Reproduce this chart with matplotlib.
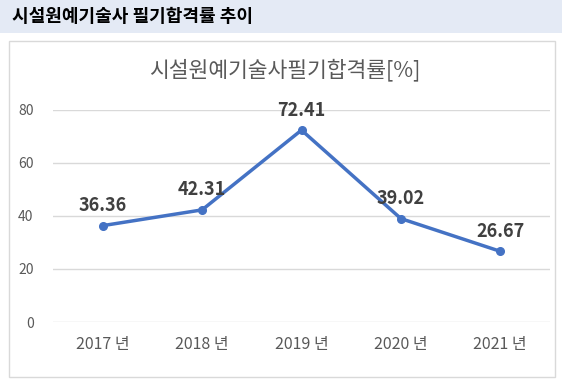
import matplotlib
matplotlib.use('Agg')
import matplotlib.pyplot as plt
from matplotlib.patches import Rectangle

plt.rcParams['font.family'] = ['Noto Sans CJK KR', 'DejaVu Sans']

# 데이터
years = ['2017 년', '2018 년', '2019 년', '2020 년', '2021 년']
pass_rate = [36.36, 42.31, 72.41, 39.02, 26.67]
yticks = [0, 20, 40, 60, 80]

header_text = '시설원예기술사 필기합격률 추이'
chart_title = '시설원예기술사필기합격률[%]'

W, H = 562, 384
fig = plt.figure(figsize=(W / 100, H / 100), dpi=100)

# 상단 헤더 띠
fig.patches.append(Rectangle((0, 1 - 33 / H), 1, 33 / H, transform=fig.transFigure,
                             facecolor='#E4EAF5', edgecolor='none', zorder=0))
fig.text(12 / W, 1 - 16 / H, header_text, fontsize=13, fontweight='bold',
         color='#000000', ha='left', va='center')

# 차트 테두리
fig.patches.append(Rectangle((9 / W, 1 - 377 / H), 546 / W, 336 / H, transform=fig.transFigure,
                             facecolor='white', edgecolor='#D9D9D9', linewidth=1, zorder=0))

ax = fig.add_axes([53 / W, 1 - 322 / H, 497 / W, 212 / H])
ax.set_zorder(2)
x = range(len(years))
ax.plot(x, pass_rate, color='#4472C4', linewidth=2.5, marker='o', markersize=5.5, zorder=3)

for i, v in enumerate(pass_rate):
    ax.text(i, v + 4, f'{v:.2f}', ha='center', va='bottom', fontsize=13,
            fontweight='bold', color='#404040')

ax.set_xlim(-0.5, len(years) - 0.5)
ax.set_ylim(0, 80)
ax.set_yticks(yticks)
ax.set_xticks(list(x))
ax.set_xticklabels(years, fontsize=11.5, color='#595959')
ax.tick_params(axis='y', labelsize=10, labelcolor='#595959', length=0, pad=14)
ax.tick_params(axis='x', length=0, pad=10)
ax.grid(axis='y', color='#D9D9D9', linewidth=1)
ax.set_axisbelow(True)
for s in ax.spines.values():
    s.set_visible(False)
ax.patch.set_alpha(0)

fig.text(285 / W, 1 - 70 / H, chart_title, fontsize=15.5, color='#595959',
         ha='center', va='center')

fig.savefig('out.png', dpi=100)
